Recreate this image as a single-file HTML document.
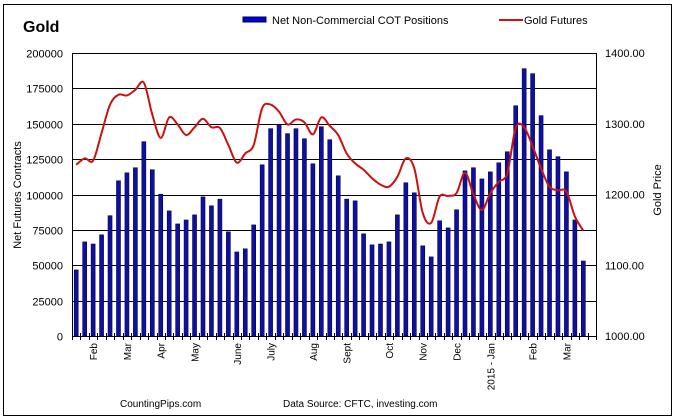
<!DOCTYPE html>
<html><head><meta charset="utf-8"><style>
body{margin:0;background:#fff;}
svg{display:block;font-family:"Liberation Sans",Arial,sans-serif;}
</style></head><body>
<svg id="chart" width="677" height="419" viewBox="0 0 677 419" xmlns="http://www.w3.org/2000/svg">
<rect x="3.5" y="4.5" width="668" height="411" fill="#fff" stroke="#000" stroke-width="1"/>
<text x="23" y="32" font-size="16" font-weight="bold">Gold</text>
<g>
<rect x="243" y="17" width="23" height="5" fill="#0000cc" stroke="#000060" stroke-width="1"/>
<text x="272" y="24" font-size="11" fill="#000">Net Non-Commercial COT Positions</text>
<line x1="499" y1="20" x2="523" y2="20" stroke="#cc1111" stroke-width="2"/>
<text x="524" y="24" font-size="11">Gold Futures</text>
</g>
<text transform="translate(21,195) rotate(-90)" text-anchor="middle" font-size="11">Net Futures Contracts</text>
<text transform="translate(661,190) rotate(-90)" text-anchor="middle" font-size="11">Gold Price</text>
<text x="120" y="407" font-size="10">CountingPips.com</text>
<text x="283" y="407" font-size="10">Data Source: CFTC, investing.com</text>
<g id="grid"></g><g id="bars"></g><g id="line"></g><g id="axes"></g>
</svg>
<script>
const cotValues=[46.7,66.5,65,71.5,85,109.7,115.3,118.9,137.3,117.5,100.2,88.4,79.2,82,85.6,98.3,92,96.7,73.6,59.4,61.6,78.5,121,146.5,149.3,143,146.5,139.4,121.7,147.9,138.7,113.2,96.7,95.5,72.2,64.4,65,66.5,85.6,108.3,101.2,63.7,55.9,81.4,76.4,89.2,116.7,118.9,111,116,122.4,130.2,162.7,188.9,185.4,155.7,131.6,126.7,116,82,53];
const goldValues=[1242,1251,1248,1287,1327,1341,1340,1348,1358,1313,1280,1309,1299,1284,1295,1307,1295,1294,1270,1245,1258,1270,1322,1327,1317,1299,1306,1302,1285,1309,1297,1284,1258,1244,1235,1223,1214,1211,1225,1251,1237,1174,1160,1197,1198,1202,1231,1200,1178,1202,1218,1230,1294,1295,1268,1237,1211,1206,1204,1169,1149];
const leftTicks=[0,25000,50000,75000,100000,125000,150000,175000,200000];
const rightTicks=["1000.00","1100.00","1200.00","1300.00","1400.00"];
const monthLabels=["Feb","Mar","Apr","May","June","July","Aug","Sept","Oct","Nov","Dec","2015 - Jan","Feb","Mar"];
const monthSlots=[2,6,10,14,19,23,28,32,37,41,45,49,54,58];
const NS="http://www.w3.org/2000/svg";
const X0=72,X1=596,Y0=336,Y1=53,SLOTS=62;
const sw=(X1-X0)/SLOTS;
const xC=i=>X0+(i+0.5)*sw;
const yL=v=>Y0-(v/200000)*(Y0-Y1);
const yR=v=>Y0-((v-1000)/400)*(Y0-Y1);
function mk(tag,attrs,parent){const e=document.createElementNS(NS,tag);for(const k in attrs)e.setAttribute(k,attrs[k]);parent.appendChild(e);return e;}
const grid=document.getElementById('grid'),bars=document.getElementById('bars'),lineG=document.getElementById('line'),axes=document.getElementById('axes');
leftTicks.forEach((t,i)=>{
  const y=Math.round(yL(t))+0.5;
  if(t>0){const g=mk('line',{x1:X0,x2:X1,y1:y,y2:y,stroke:'#000','stroke-width':1},grid);
  
  }
  const tx=mk('text',{x:63,y:y+4,'text-anchor':'end','font-size':11},axes);tx.textContent=t;
  
  
});
rightTicks.forEach(t=>{
  const y=yR(parseFloat(t));
  const tx=mk('text',{x:605,y:y+4,'font-size':11},axes);tx.textContent=t;
  
  
});
cotValues.forEach((v,i)=>{
  const b=mk('rect',{x:xC(i)-2,y:yL(v*1000),width:4,height:Y0-yL(v*1000),fill:'#1010a0',stroke:'#000050','stroke-width':0.6},bars);
  
  
});
// smooth line (Catmull-Rom)
const pts=goldValues.map((v,i)=>[xC(i),yR(v)]);
let d=`M${pts[0][0]},${pts[0][1]}`;
for(let i=0;i<pts.length-1;i++){
  const p0=pts[i-1]||pts[i],p1=pts[i],p2=pts[i+1],p3=pts[i+2]||p2;
  const c1=[p1[0]+(p2[0]-p0[0])/6,p1[1]+(p2[1]-p0[1])/6];
  const c2=[p2[0]-(p3[0]-p1[0])/6,p2[1]-(p3[1]-p1[1])/6];
  d+=` C${c1[0]},${c1[1]} ${c2[0]},${c2[1]} ${p2[0]},${p2[1]}`;
}
const ln=mk('path',{d:d,fill:'none',stroke:'#cc1111','stroke-width':2},lineG);


// axes
const ax=mk('path',{d:`M${X0+0.5},${Y1} V${Y0+0.5} H${X1+0.5} V${Y1}`,fill:'none',stroke:'#000','stroke-width':1},axes);


const tp=mk('line',{x1:X0,x2:X1,y1:Y1+0.5,y2:Y1+0.5,stroke:'#000','stroke-width':1},axes);


for(let i=0;i<=SLOTS;i++){
  const x=Math.round(X0+i*sw)+0.5;
  const tk=mk('line',{x1:x,x2:x,y1:Y0-3,y2:Y0+4,stroke:'#000','stroke-width':1},axes);
  
  
}
monthLabels.forEach((m,i)=>{
  const x=xC(monthSlots[i])+4;
  const t=mk('text',{transform:`translate(${x},343) rotate(-90)`,'text-anchor':'end','font-size':10},axes);
  t.textContent=m;
  
  
});
</script>
</body></html>
